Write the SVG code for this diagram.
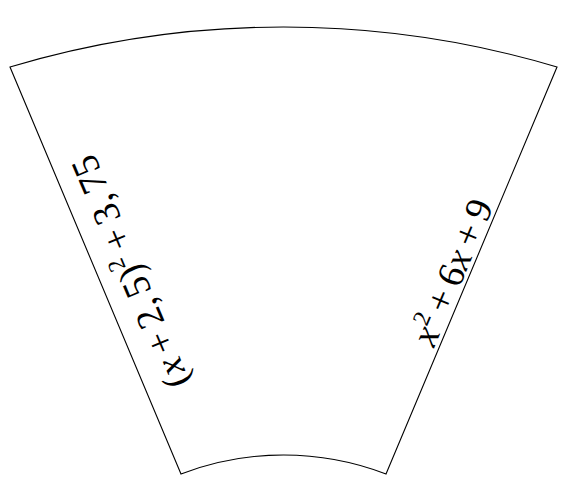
<svg xmlns="http://www.w3.org/2000/svg" width="568" height="493" viewBox="0 0 568 493">
<style>
.edge{fill:#fff;stroke:#000;stroke-width:1.1;stroke-linejoin:miter}
.lbl{font-family:"Liberation Serif","Times New Roman",serif;font-size:38px;fill:#000}
.it{font-style:italic}
.sup{font-size:24px}
</style>
<rect width="568" height="493" fill="#fff"/>
<g id="sector">
<path class="edge" d="M10,67 A955,955 0 0 1 557,67 L386,474 A286,286 0 0 0 181,474 Z"/>
</g>
<g id="label-left">
<text class="lbl" text-anchor="middle" transform="translate(142,267) rotate(-112.8)">(<tspan class="it">x</tspan><tspan dx="7">+</tspan><tspan dx="7">2,</tspan><tspan dx="5">5)</tspan><tspan class="sup" dy="-15">2</tspan><tspan dy="15" dx="7">+</tspan><tspan dx="7">3,</tspan><tspan dx="5">75</tspan></text>
</g>
<g id="label-right">
<text class="lbl" text-anchor="middle" transform="translate(464,277) rotate(-67.2)"><tspan class="it">x</tspan><tspan class="sup" dy="-15">2</tspan><tspan dy="15" dx="7">+</tspan><tspan dx="7">6</tspan><tspan class="it">x</tspan><tspan dx="7">+</tspan><tspan dx="7">9</tspan></text>
</g>
</svg>
